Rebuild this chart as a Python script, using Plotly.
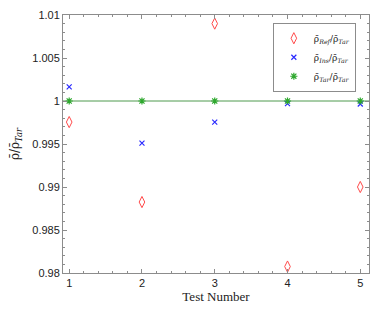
import plotly.graph_objects as go

tests = [1, 2, 3, 4, 5]
ref_ratio = [0.99755, 0.98825, 1.0090, 0.98075, 0.9900]
ins_ratio = [1.00165, 0.99510, 0.99755, 0.99970, 0.99965]
tar_ratio = [1.0, 1.0, 1.0, 1.0, 1.0]
y_ticks = [0.98, 0.985, 0.99, 0.995, 1.0, 1.005, 1.01]
y_tick_labels = ["0.98", "0.985", "0.99", "0.995", "1", "1.005", "1.01"]
x_ticks = [1, 2, 3, 4, 5]

serif = "DejaVu Serif"
sans = "Liberation Sans"
frame = "#8c8c8c"
x_range = [0.915, 5.12]
y_range = [0.98, 1.01]

fig = go.Figure()
fig.add_hline(y=1.0, line=dict(color="#4f9a4f", width=1), layer="below")
fig.add_trace(go.Scatter(
    x=tests, y=ref_ratio, mode="markers", name="ρ̄<sub><i>Ref</i></sub>/ρ̄<sub><i>Tar</i></sub>",
    marker=dict(symbol="diamond-tall-open", size=8, color="#ff4a4a", line=dict(width=1))))
fig.add_trace(go.Scatter(
    x=tests, y=ins_ratio, mode="markers", name="ρ̄<sub><i>Ins</i></sub>/ρ̄<sub><i>Tar</i></sub>",
    marker=dict(symbol="x-thin-open", size=5, color="#2a2aff", line=dict(width=1.2))))
fig.add_trace(go.Scatter(
    x=tests, y=tar_ratio, mode="markers", name="ρ̄<sub><i>Tar</i></sub>/ρ̄<sub><i>Tar</i></sub>",
    marker=dict(symbol="asterisk-open", size=6, color="#2ea82e", line=dict(width=1.2))))

axis_common = dict(
    showline=True, linecolor=frame, linewidth=1, mirror="allticks", automargin=False,
    ticks="inside", ticklen=4, tickwidth=1, tickcolor=frame, showgrid=False, zeroline=False,
    tickfont=dict(family=sans, size=11, color="#222222"),
)
fig.update_layout(
    xaxis=dict(**axis_common, range=x_range, tickvals=x_ticks,
               minor=dict(dtick=0.2, tick0=1, ticks="inside", ticklen=2, tickcolor=frame),
               title=dict(text="Test Number", font=dict(family="Liberation Serif", size=13, color="#222222"), standoff=3)),
    yaxis=dict(**axis_common, range=y_range, tickvals=y_ticks, ticktext=y_tick_labels,
               minor=dict(dtick=0.001, tick0=0.98, ticks="inside", ticklen=2, tickcolor=frame),
               title=dict(text="ρ̄/ρ̄<sub><i>Tar</i></sub>", font=dict(family=serif, size=12, color="#222222"), standoff=12)),
    width=374, height=302,
    margin=dict(l=55, r=13, t=7, b=37),
    plot_bgcolor="white", paper_bgcolor="white",
    showlegend=True,
    legend=dict(x=0.957, y=0.97, xanchor="right", yanchor="top",
                bordercolor=frame, borderwidth=1, bgcolor="white",
                font=dict(family=serif, size=9, color="#222222"),
                itemwidth=30, tracegroupgap=0),
)
fig.write_html("out.html")
